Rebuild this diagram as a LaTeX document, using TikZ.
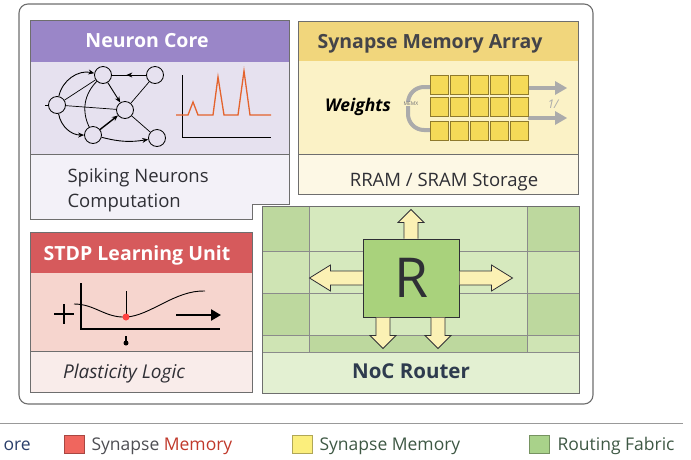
\documentclass[tikz,border=0pt]{standalone}
\usepackage{fontspec}
\setmainfont{Open Sans}
\usetikzlibrary{calc,arrows.meta}
\definecolor{framegray}{HTML}{6E6E6E}
\definecolor{textdark}{HTML}{2F2F35}
\definecolor{corehead}{HTML}{9A86C8}
\definecolor{coremid}{HTML}{E6E1EF}
\definecolor{corebot}{HTML}{F3F1F8}
\definecolor{synhead}{HTML}{F1D67C}
\definecolor{synmid}{HTML}{FBF2C6}
\definecolor{synbot}{HTML}{FDF8E5}
\definecolor{stdphead}{HTML}{D65A5C}
\definecolor{stdpmid}{HTML}{F6D5CE}
\definecolor{stdpbot}{HTML}{F9ECEA}
\definecolor{nocbase}{HTML}{CFE4B4}
\definecolor{nocdark}{HTML}{BDD89E}
\definecolor{noclight}{HTML}{D6E9BE}
\definecolor{nocband}{HTML}{E3F0D2}
\definecolor{routerfill}{HTML}{A9D27C}
\definecolor{arrowfill}{HTML}{FBF1B4}
\definecolor{spike}{HTML}{E4632D}
\definecolor{cellfill}{HTML}{F5DA58}
\definecolor{cellline}{HTML}{8F7A2C}
\definecolor{wirefill}{HTML}{ABABAB}
\definecolor{keyred}{HTML}{F0665E}
\definecolor{keyyellow}{HTML}{FBEE7C}
\definecolor{keygreen}{HTML}{A9D28A}
\definecolor{memred}{HTML}{C0392B}
\definecolor{keytext}{HTML}{3E5844}
\definecolor{navy}{HTML}{2B3F6B}
\definecolor{noctext}{HTML}{2E3B4E}
% block arrow: (start)(angle:length:head length)
\def\blockarrow[#1](#2)(#3:#4:#5){%
  \begin{scope}[shift={(#2)},rotate=#3]
    \filldraw[#1] (0,-7) -- (#4-#5,-7) -- (#4-#5,-13) -- (#4,0) -- (#4-#5,13) -- (#4-#5,7) -- (0,7);
  \end{scope}}

\begin{document}
\begin{tikzpicture}[x=1pt,y=-1pt,
    panel/.style={draw=framegray,line width=0.9pt},
    title/.style={font=\bfseries\fontsize{19.5}{22}\selectfont,anchor=base},
    body/.style={font=\fontsize{18.5}{21}\selectfont,text=textdark},
    keytxt/.style={font=\fontsize{17.5}{20}\selectfont,anchor=base west},
    neuron/.style={circle,draw,line width=0.8pt,fill=coremid,minimum size=17pt,inner sep=0pt},
    syn/.style={-{Stealth[length=6pt,width=5pt]},line width=0.9pt},
    cell/.style={draw=cellline,fill=cellfill,line width=0.6pt},
    route/.style={draw=textdark,fill=arrowfill,line width=0.8pt,line join=miter},
    wire/.style={draw=wirefill,line width=4pt},
    key/.style={draw=#1!70!black,fill=#1,line width=0.5pt}]
  \useasboundingbox (0,0) rectangle (691,459);
  %%%%% START %%%%%

  % frame and legend rule
  \draw[rounded corners=9pt, draw=framegray, line width=1.1pt, fill=white] (19,4) rectangle (593,404);
  \draw[draw=framegray!70, line width=1pt] (0,423) -- (683,423);

  % neuron core
  \fill[corebot] (30,154) -- (289,154) -- (289,204) -- (252,204) -- (252,219) -- (30,219) -- cycle;
  \fill[coremid] (30,62) rectangle (289,154);
  \fill[corehead] (30,20) rectangle (289,62);
  \draw[panel] (30,154) -- (289,154);
  \draw[panel] (30,20) -- (289,20) -- (289,204) -- (252,204) -- (252,219) -- (30,219) -- cycle;
  \node[title, text=white] (coretitle) at (147,47) {Neuron Core};
  \node[body, anchor=base west] (coretext) at (64,182) {Spiking Neurons};
  \node[body, anchor=base west] (coretext2) at (64,207) {Computation};

  \node[neuron] (na) at (57,105) {};
  \node[neuron] (nb) at (103,75) {};
  \node[neuron] (nc) at (155,75) {};
  \node[neuron] (nd) at (125,110) {};
  \node[neuron] (ne) at (93,135) {};
  \node[neuron] (nf) at (157,138) {};
  \draw[line width=0.7pt] (na) -- (nb);
  \draw[line width=0.7pt] (na) -- (nd);
  \draw[line width=0.7pt] (nc) -- (nd);
  \draw[line width=0.7pt] (nd) -- (nf);
  \draw[line width=0.8pt] (nb) to[bend right=35] (ne);
  \draw[syn] (na) to[bend left=45] (nb);
  \draw[syn] (na) to[bend right=40] (ne);
  \draw[syn] (nb) -- (nd);
  \draw[syn] (nc) -- ($(nc)!0.55!(nb)$);
  \draw[line width=0.9pt] ($(nc)!0.5!(nb)$) -- (nb);
  \draw[syn, line width=1.4pt] (ne) -- (nd);
  \draw[syn] (ne) to[bend right=12] (nf);
  \draw[line width=0.8pt] (na.west) -- ++(-3,0);

  % spike train
  \draw[line width=1pt] (182,75) -- (182,137) -- (271,137);
  \draw[spike, line width=1.3pt, line join=miter]
    (176,115) -- (188,115) -- (193,102) -- (198,115) -- (213,115) -- (218,77) -- (224,115)
    -- (238,115) -- (244,71) -- (250,115) -- (271,115);

  % synapse memory array
  \fill[synbot] (298,154) rectangle (578,194);
  \fill[synmid] (298,61) rectangle (578,154);
  \fill[synhead] (298,21) rectangle (578,61);
  \draw[panel] (298,154) -- (578,154);
  \draw[panel] (298,21) rectangle (578,194);
  \node[title, text=textdark!90] (syntitle) at (430,48) {Synapse Memory Array};
  \node[body, anchor=base] (syntext) at (444,186) {RRAM / SRAM Storage};
  \node[font=\bfseries\itshape\fontsize{17.5}{20}\selectfont, text=black, anchor=base] (weights) at (358,111) {Weights};

  \draw[wire, rounded corners=16pt] (432,87) -- (408,87) -- (408,130) -- (432,130);
  \draw[wire] (528,88) -- (556,88);
  \draw[wire] (528,118) -- (556,118);
  \fill[wirefill] (555,81) -- (567,88) -- (555,95) -- cycle;
  \fill[wirefill] (555,111) -- (567,118) -- (555,125) -- cycle;
  \foreach \col in {0,...,4}
    \foreach \row/\top in {0/75,1/97,2/121}
      \draw[cell] (430+\col*20,\top) rectangle ++(18,19);
  \node[font=\fontsize{5}{6}\selectfont, text=textdark!70, fill=synmid, inner sep=0.5pt] (memx) at (411,104) {MEMX};
  \node[font=\itshape\fontsize{12}{14}\selectfont, text=wirefill] (scale) at (553,104) {1/};

  % stdp learning unit
  \fill[stdpbot] (30,351) rectangle (252,392);
  \fill[stdpmid] (30,273) rectangle (252,351);
  \fill[stdphead] (30,232) rectangle (252,273);
  \draw[panel] (30,351) -- (252,351);
  \draw[panel] (30,232) rectangle (252,392);
  \node[title, text=white] (stdptitle) at (137,260) {STDP Learning Unit};
  \node[body, font=\itshape\fontsize{19}{21}\selectfont, anchor=base] (stdptext) at (124,378) {Plasticity Logic};

  \draw[line width=1.6pt] (81,283) -- (81,329) -- (220,329);
  \draw[line width=0.9pt] (74,304) .. controls (95,304) and (105,318) .. (126,317)
    .. controls (150,316) and (175,290) .. (205,291);
  \draw[line width=0.8pt] (126,291) -- (126,317);
  \node[circle, fill=red!75!white, minimum size=7pt, inner sep=0pt] (stdpdot) at (126,317) {};
  \draw[line width=2.4pt] (54,314) -- (74,314);
  \draw[line width=2.4pt] (64,304) -- (64,324);
  \draw[-{Triangle[length=10pt,width=11pt]}, line width=2.4pt] (176,315) -- (221,315);
  \fill (126,343) circle (2.5);
  \draw[line width=1.2pt] (126,336) -- (126,342);

  % noc router
  \fill[nocbase] (262,206) rectangle (579,352);
  \fill[noclight] (309,206) rectangle (527,335);
  \fill[nocdark] (262,206) rectangle (309,251);
  \fill[nocdark] (262,293) rectangle (309,335);
  \fill[nocdark] (527,206) rectangle (579,251);
  \fill[nocdark] (527,293) rectangle (579,335);
  \fill[nocdark] (309,335) rectangle (527,352);
  \fill[nocband] (262,352) rectangle (579,393);
  \foreach \y in {251,293,335,352}
    \draw[draw=framegray!80, line width=0.7pt] (262,\y) -- (579,\y);
  \foreach \x in {309,527}
    \draw[draw=framegray!80, line width=0.7pt] (\x,206) -- (\x,352);
  \draw[panel] (262,206) rectangle (579,393);
  \node[font=\bfseries\fontsize{20.5}{23}\selectfont, text=noctext, anchor=base] (noctitle) at (411,378) {NoC Router};

  \node[draw=textdark, fill=routerfill, line width=1pt, minimum width=96pt, minimum height=78pt,
    font=\fontsize{55}{60}\selectfont, text=textdark] (router) at (411,278) {R};
  \blockarrow[route](router.north)(90:29:13)
  \blockarrow[route](router.west)(180:53:21)
  \blockarrow[route](router.east)(0:53:21)
  \blockarrow[route]($(router.south)+(-28,0)$)(-90:31:13)
  \blockarrow[route]($(router.south)+(27,0)$)(-90:31:13)

  % legend
  \node[keytxt, text=navy] (keycore) at (0,450) {ore};
  \draw[key=keyred] (64,435) rectangle (84,453);
  \node[keytxt, text=textdark!85] (keystdp) at (88,450) {Synapse \textcolor{memred}{Memory}};
  \draw[key=keyyellow] (292,435) rectangle (312,453);
  \node[keytxt, text=keytext] (keysyn) at (316,450) {Synapse Memory};
  \draw[key=keygreen] (529,435) rectangle (549,453);
  \node[keytxt, text=keytext] (keynoc) at (554,450) {Routing Fabric};

  %%%%% END %%%%%
\end{tikzpicture}
\end{document}
